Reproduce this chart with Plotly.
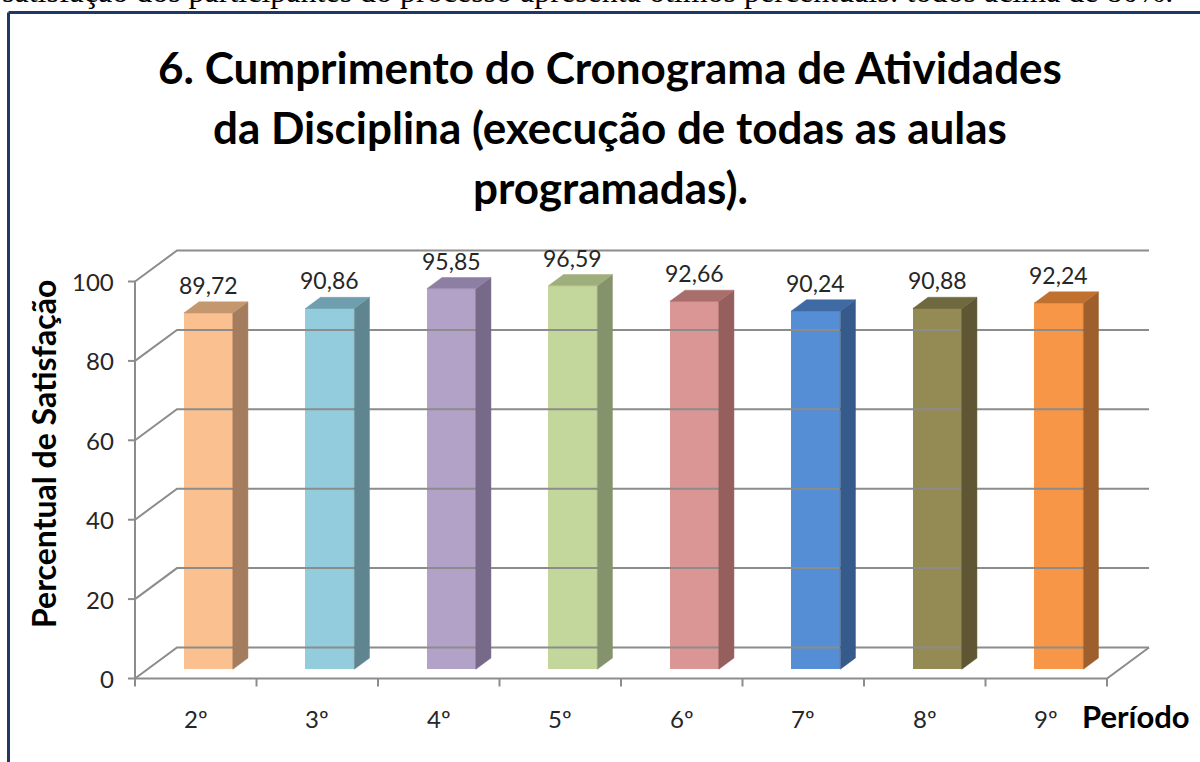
import plotly.graph_objects as go

# Satisfaction per period
periodos = ["2º", "3º", "4º", "5º", "6º", "7º", "8º", "9º"]
valores = [89.72, 90.86, 95.85, 96.59, 92.66, 90.24, 90.88, 92.24]
rotulos = ["89,72", "90,86", "95,85", "96,59", "92,66", "90,24", "90,88", "92,24"]
y_ticks = [0, 20, 40, 60, 80, 100]

cor_frente = ["#FAC090", "#93CDDD", "#B3A2C7", "#C3D69B", "#D99694", "#558ED5", "#948A54", "#F79646"]
cor_lado = ["#A37D5E", "#5F8590", "#776A88", "#85936C", "#955F5E", "#365A8A", "#5F5733", "#9E5F2C"]
cor_topo = ["#C4976F", "#6F9FAE", "#8D7EA3", "#9EAF7B", "#A86E6C", "#3F6AA3", "#6F6940", "#C0702F"]

# Pixel mapping: plot area fills the page, data units chosen so the front
# axis sits at x=135px (categories 121.5px apart) and y=0 at 678.5px.
W, H = 1200, 762
PX_X = 121.5
PX_Y = 3.97
X0_PX, Y0_PX = 135.0, 678.5
x_range = [(0 - X0_PX) / PX_X, (W - X0_PX) / PX_X]
y_range = [(Y0_PX - H) / PX_Y, (Y0_PX - 0) / PX_Y]

# oblique depth of the floor / walls
DX = 42 / PX_X
DY = 31 / PX_Y
F0 = 0.30        # bar front depth fraction
FD = 0.36        # bar depth fraction
BW = 0.403       # bar width in category units
n = len(periodos)

GRID = "#8C8C8C"
fig = go.Figure()

# walls: gridlines on left wall + back wall
for v in y_ticks:
    fig.add_trace(go.Scatter(x=[0, DX, n + DX], y=[v, v + DY, v + DY], mode="lines",
                             line=dict(color=GRID, width=2), hoverinfo="skip", showlegend=False))
# floor front edge and right edge
fig.add_trace(go.Scatter(x=[0, n, n + DX], y=[0, 0, DY], mode="lines",
                         line=dict(color=GRID, width=2), hoverinfo="skip", showlegend=False))
# front vertical axis
fig.add_trace(go.Scatter(x=[0, 0], y=[0, 100], mode="lines",
                         line=dict(color=GRID, width=2), hoverinfo="skip", showlegend=False))
# y tick marks
for v in y_ticks:
    fig.add_trace(go.Scatter(x=[-7 / PX_X, 0], y=[v, v], mode="lines",
                             line=dict(color=GRID, width=2), hoverinfo="skip", showlegend=False))
# x tick marks
for i in range(n + 1):
    fig.add_trace(go.Scatter(x=[i, i], y=[0, -8 / PX_Y], mode="lines",
                             line=dict(color=GRID, width=2), hoverinfo="skip", showlegend=False))

base = F0 * DY
centros = [i + 0.5 + F0 * DX for i in range(n)]
ddx, ddy = FD * DX, FD * DY

# side and top faces of each bar
for i, v in enumerate(valores):
    c = centros[i]
    xl, xr = c - BW / 2, c + BW / 2
    yb, yt = base, base + v
    fig.add_trace(go.Scatter(x=[xr, xr + ddx, xr + ddx, xr, xr], y=[yb, yb + ddy, yt + ddy, yt, yb],
                             mode="lines", fill="toself", fillcolor=cor_lado[i],
                             line=dict(color=cor_lado[i], width=0.5), hoverinfo="skip", showlegend=False))
    fig.add_trace(go.Scatter(x=[xl, xr, xr + ddx, xl + ddx, xl], y=[yt, yt, yt + ddy, yt + ddy, yt],
                             mode="lines", fill="toself", fillcolor=cor_topo[i],
                             line=dict(color=cor_topo[i], width=0.5), hoverinfo="skip", showlegend=False))

# front faces
fig.add_trace(go.Bar(x=centros, y=valores, base=[base] * n, width=[BW] * n,
                     marker=dict(color=cor_frente, line=dict(width=0)), showlegend=False,
                     hoverinfo="skip"))

anns = []
FONT = "Lato"
# value labels
for i, v in enumerate(valores):
    anns.append(dict(x=centros[i], y=base + v + ddy, text=rotulos[i], showarrow=False,
                     yanchor="bottom", yshift=1, font=dict(family=FONT, size=23, color="#262626")))
# y tick labels
for v in y_ticks:
    anns.append(dict(x=-19 / PX_X, y=v, text=str(v), showarrow=False, xanchor="right",
                     font=dict(family=FONT, size=24, color="#262626")))
# category labels
for i, p in enumerate(periodos):
    anns.append(dict(x=i + 0.5, y=(Y0_PX - 718) / PX_Y, text=p, showarrow=False,
                     font=dict(family=FONT, size=24, color="#262626")))
# axis titles
anns.append(dict(x=(1136 - X0_PX) / PX_X, y=(Y0_PX - 716) / PX_Y, text="<b>Período</b>",
                 showarrow=False, font=dict(family=FONT, size=31, color="#000000")))
anns.append(dict(x=(43 - X0_PX) / PX_X, y=(Y0_PX - 454) / PX_Y, text="<b>Percentual de Satisfação</b>",
                 showarrow=False, textangle=-90, font=dict(family=FONT, size=32, color="#000000")))
# chart title
titulo = ["6. Cumprimento do Cronograma de Atividades",
          "da Disciplina (execução de todas as aulas",
          "programadas)."]
for k, linha in enumerate(titulo):
    anns.append(dict(x=(610 - X0_PX) / PX_X, y=(Y0_PX - (67 + 60 * k)) / PX_Y, text="<b>" + linha + "</b>",
                     showarrow=False, font=dict(family=FONT, size=44, color="#000000")))
# running text above the chart frame
anns.append(dict(x=(0 - X0_PX) / PX_X, y=(Y0_PX - 0) / PX_Y, xanchor="left", yanchor="middle", yshift=9,
                 text="satisfação dos participantes do processo apresenta ótimos percentuais: todos acima de 80%.",
                 showarrow=False, font=dict(family="Liberation Serif", size=32, color="#000000")))

# chart frame
fx = (8.5 - X0_PX) / PX_X
fy = (Y0_PX - 12.5) / PX_Y
shapes = [dict(type="line", x0=fx, x1=fx, y0=fy, y1=y_range[0] - 5, line=dict(color="#1F3864", width=3)),
          dict(type="line", x0=fx, x1=x_range[1] + 5, y0=fy, y1=fy, line=dict(color="#1F3864", width=3))]

fig.update_layout(
    width=W, height=H, margin=dict(l=0, r=0, t=0, b=0),
    paper_bgcolor="white", plot_bgcolor="white",
    xaxis=dict(range=x_range, visible=False, fixedrange=True),
    yaxis=dict(range=y_range, visible=False, fixedrange=True),
    annotations=anns, shapes=shapes, bargap=0,
)
fig.write_html("out.html")
